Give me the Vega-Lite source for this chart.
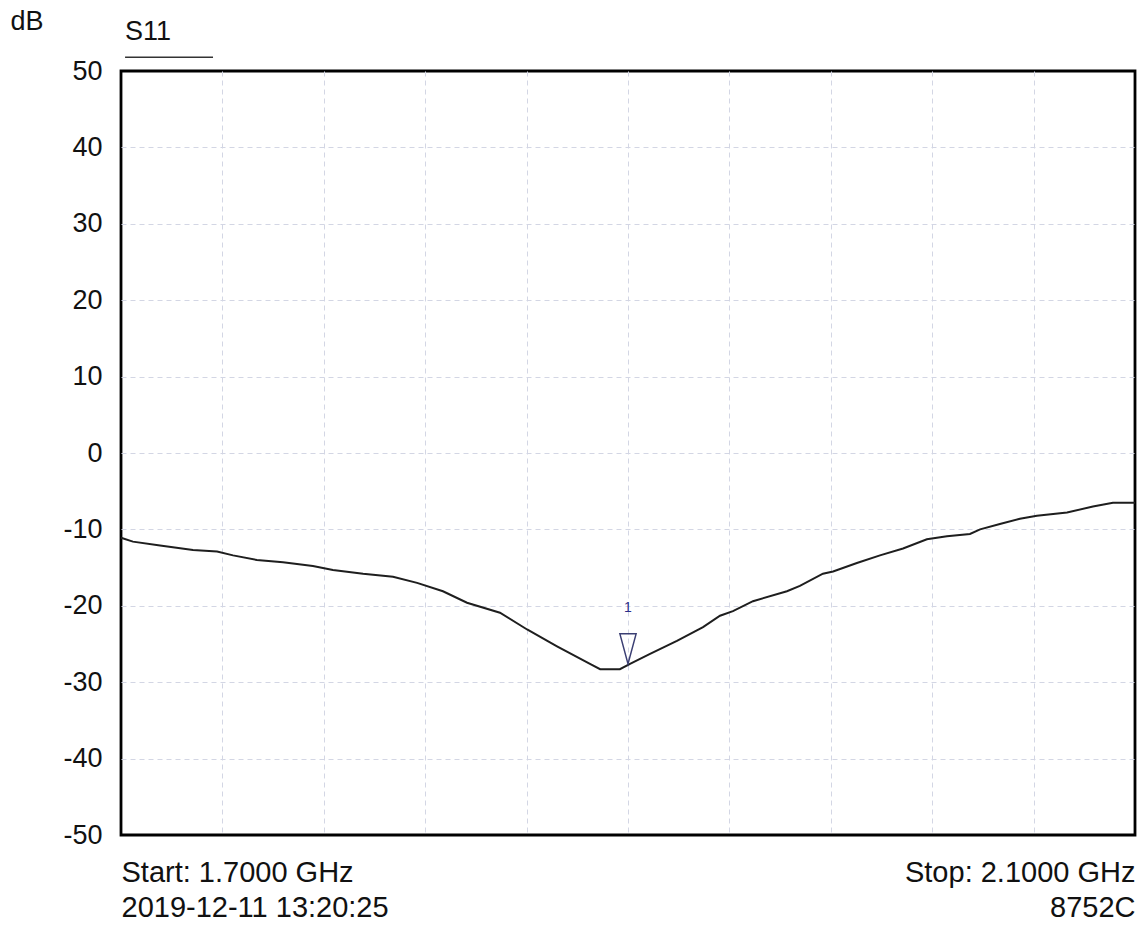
{
  "$schema": "https://vega.github.io/schema/vega-lite/v6.json",
  "width": 1014,
  "height": 764,
  "autosize": "none",
  "padding": {"left": 121, "top": 71, "right": 7, "bottom": 106},
  "background": "white",
  "config": {
    "font": "Liberation Sans",
    "view": {"stroke": "black", "strokeWidth": 2.8},
    "axis": {"domain": false, "ticks": false, "gridColor": "#d3d6e4", "gridDash": [5, 4], "gridWidth": 1, "labelColor": "#111", "titleColor": "#111", "labelLimit": 0}
  },
  "title": {"text": "S11", "anchor": "start", "frame": "group", "fontSize": 27, "fontWeight": "normal", "font": "Liberation Sans", "color": "#111", "baseline": "alphabetic", "offset": -60, "dx": 4},
  "datasets": {
    "trace": [
      {"f": 1.7, "db": -11.1}, {"f": 1.7047, "db": -11.6}, {"f": 1.7154, "db": -12.1}, {"f": 1.7284, "db": -12.7},
      {"f": 1.7379, "db": -12.9}, {"f": 1.7442, "db": -13.4}, {"f": 1.7536, "db": -14.0}, {"f": 1.7639, "db": -14.3},
      {"f": 1.7757, "db": -14.8}, {"f": 1.7836, "db": -15.3}, {"f": 1.7955, "db": -15.8}, {"f": 1.8073, "db": -16.2},
      {"f": 1.8168, "db": -17.0}, {"f": 1.827, "db": -18.1}, {"f": 1.8365, "db": -19.6}, {"f": 1.8495, "db": -20.9},
      {"f": 1.8602, "db": -23.1}, {"f": 1.872, "db": -25.3}, {"f": 1.885, "db": -27.6}, {"f": 1.889, "db": -28.3},
      {"f": 1.8968, "db": -28.3}, {"f": 1.9008, "db": -27.6}, {"f": 1.9087, "db": -26.3}, {"f": 1.9193, "db": -24.6},
      {"f": 1.9296, "db": -22.8}, {"f": 1.9363, "db": -21.3}, {"f": 1.9414, "db": -20.7}, {"f": 1.9493, "db": -19.4},
      {"f": 1.9627, "db": -18.1}, {"f": 1.9678, "db": -17.4}, {"f": 1.9769, "db": -15.8}, {"f": 1.9809, "db": -15.5},
      {"f": 1.9903, "db": -14.4}, {"f": 1.9994, "db": -13.4}, {"f": 2.0085, "db": -12.5}, {"f": 2.0179, "db": -11.3},
      {"f": 2.0258, "db": -10.9}, {"f": 2.0349, "db": -10.6}, {"f": 2.0389, "db": -10.0}, {"f": 2.0467, "db": -9.3},
      {"f": 2.0546, "db": -8.6}, {"f": 2.0613, "db": -8.2}, {"f": 2.0732, "db": -7.8}, {"f": 2.0834, "db": -7.0},
      {"f": 2.0913, "db": -6.5}, {"f": 2.1, "db": -6.5}
    ],
    "marker": [{"f": 1.9, "db": -27.6, "label": "1"}],
    "legend": [{"f1": 1.7016, "f2": 1.7363, "db": 51.8}]
  },
  "layer": [
    {
      "data": {"name": "trace"},
      "mark": {"type": "line", "color": "#1e1e1e", "strokeWidth": 2, "interpolate": "linear"},
      "encoding": {
        "x": {"field": "f", "type": "quantitative", "scale": {"domain": [1.7, 2.1], "nice": false, "zero": false},
          "axis": {"title": null, "values": [1.7, 1.74, 1.78, 1.82, 1.86, 1.9, 1.94, 1.98, 2.02, 2.06, 2.1],
            "gridOpacity": {"condition": {"test": "datum.value < 1.71 || datum.value > 2.09", "value": 0}, "value": 1},
            "labelExpr": "datum.value < 1.71 ? ['Start: 1.7000 GHz', '2019-12-11 13:20:25'] : (datum.value > 2.09 ? ['Stop: 2.1000 GHz', '8752C'] : '')",
            "labelFontSize": 29, "labelLineHeight": 35, "labelPadding": 23, "labelBaseline": "top", "labelFlush": false, "labelOverlap": false,
            "labelAlign": {"condition": {"test": "datum.value < 1.71", "value": "left"}, "value": "right"}}},
        "y": {"field": "db", "type": "quantitative", "scale": {"domain": [-50, 50], "nice": false, "zero": false},
          "axis": {"title": "dB", "titleAngle": 0, "titleFontSize": 27, "titleFontWeight": "normal", "titleAlign": "left", "titleBaseline": "middle", "titleX": -111, "titleY": -50,
            "values": [-50, -40, -30, -20, -10, 0, 10, 20, 30, 40, 50],
            "gridOpacity": {"condition": {"test": "datum.value == 50 || datum.value == -50", "value": 0}, "value": 1},
            "labelExpr": "datum.value + ''", "labelFontSize": 27, "labelPadding": 19, "labelFlush": false, "labelOverlap": false}}
      }
    },
    {
      "data": {"name": "legend"},
      "mark": {"type": "rule", "color": "#333", "strokeWidth": 1.5, "clip": false},
      "encoding": {
        "x": {"field": "f1", "type": "quantitative"},
        "x2": {"field": "f2"},
        "y": {"field": "db", "type": "quantitative"}
      }
    },
    {
      "data": {"name": "marker"},
      "mark": {"type": "point", "shape": "M -0.27 -1 L 0.27 -1 L 0 0 Z", "size": 3600, "filled": false, "stroke": "#3b3f73", "strokeWidth": 1.5, "opacity": 1},
      "encoding": {
        "x": {"field": "f", "type": "quantitative"},
        "y": {"field": "db", "type": "quantitative"}
      }
    },
    {
      "data": {"name": "marker"},
      "mark": {"type": "text", "fontSize": 14, "color": "#2b2f8a", "dy": -56, "baseline": "middle"},
      "encoding": {
        "x": {"field": "f", "type": "quantitative"},
        "y": {"field": "db", "type": "quantitative"},
        "text": {"field": "label"}
      }
    }
  ]
}
